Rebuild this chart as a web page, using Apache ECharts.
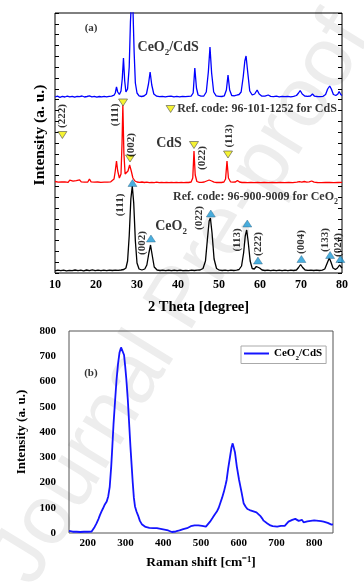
<!DOCTYPE html>
<html><head><meta charset="utf-8">
<script src="https://cdn.jsdelivr.net/npm/echarts@6/dist/echarts.min.js"></script>
<style>html,body{margin:0;padding:0;background:#fff}#c{width:364px;height:585px}</style>
</head><body><div id="c"></div>
<script>
// ---------- (a) XRD data: [2theta, intensity above each curve's own baseline] ----------
const xrdComposite = [[10,0],[10.6,0.8],[11.2,-0.3],[11.8,0.6],[12.4,0],[13,0.9],[13.6,0.2],[14.2,0.7],[14.8,-0.2],[15.4,0.6],[16,0.3],[16.6,1],[17.2,0],[17.8,0.5],[18.4,1.1],[19,0.2],[19.6,0.6],[20.2,-0.2],[20.8,0.5],[21.4,0.1],[22,0.7],[22.6,0.2],[23.2,0.6],[23.8,0.9],[24.4,1.8],[24.7,4],[25.0,10],[25.3,5],[25.7,2.5],[26.1,6],[26.4,18],[26.7,39],[27.0,16],[27.3,5],[27.7,8],[28.1,30],[28.4,75],[28.7,100],[29.0,90],[29.3,45],[29.6,14],[30.0,4],[30.5,1.2],[31.1,0.5],[31.7,1],[32.3,3],[32.8,13],[33.2,25],[33.6,12],[34.1,3],[34.8,0.8],[35.5,0.3],[36.2,0.7],[36.9,0.1],[37.6,0.6],[38.3,0.9],[39,0.2],[39.7,0.6],[40.4,0.1],[41.1,0.7],[41.8,0.3],[42.5,0.6],[43.2,0.8],[43.7,4],[44.1,29],[44.5,9],[44.9,2],[45.6,0.8],[46.3,1],[46.9,5],[47.4,25],[47.8,50],[48.2,24],[48.7,5],[49.3,1.2],[50,0.6],[50.7,0.5],[51.3,1.2],[51.8,7],[52.2,22],[52.6,7],[53.1,1.5],[53.7,1.2],[54.3,1.8],[54.9,2.5],[55.4,5],[55.9,20],[56.3,36],[56.6,41],[57.0,25],[57.5,6],[58.1,2],[58.7,3],[59.3,7],[59.8,3],[60.4,1],[61.2,0.8],[62,2],[62.6,0.6],[63.3,0.3],[64,0.8],[64.7,0.2],[65.4,0.6],[66.1,0.3],[66.8,0.7],[67.5,0.2],[68.2,0.6],[68.9,1.5],[69.4,4],[69.8,6.5],[70.3,3],[70.9,1],[71.6,0.6],[72.3,1],[72.8,3],[73.3,0.8],[74,0.5],[74.7,0.3],[75.4,0.7],[76,2.5],[76.5,8],[77.0,11],[77.4,8],[77.9,2.5],[78.5,1.5],[79.0,3],[79.3,5.5],[79.7,2.5],[80,1.5]];
const xrdCdS = [[10,1.5],[10.4,2.5],[10.8,0.8],[11.2,2],[11.6,1],[12,3],[12.4,1.2],[12.8,2.2],[13.2,0.6],[13.6,2.8],[14,1],[14.4,1.8],[14.8,0.7],[15.2,2.4],[15.6,1],[16,3.2],[16.4,1.1],[16.8,2],[17.2,0.8],[17.6,2.2],[18,1],[18.4,4],[18.8,1.2],[19.2,2],[19.6,0.9],[20,2.4],[20.4,1],[20.8,1.8],[21.2,0.6],[21.6,2],[22,0.9],[22.4,1.8],[22.8,0.8],[23.2,2.2],[23.6,1.2],[24,2],[24.4,4],[24.7,12],[25.0,22],[25.3,12],[25.7,5],[26.1,9],[26.35,40],[26.55,78],[26.8,30],[27.1,9],[27.4,7],[27.8,12],[28.2,18],[28.6,12],[29.0,5],[29.5,2],[30,1],[30.6,0.6],[31.2,1],[31.8,0.5],[32.4,0.8],[33,0.4],[33.6,0.7],[34.2,0.4],[34.8,0.8],[35.4,0.4],[36,0.6],[36.6,0.3],[37.2,0.7],[37.8,0.4],[38.4,0.6],[39,0.3],[39.6,0.7],[40.2,0.4],[40.8,0.5],[41.4,0.3],[42,0.6],[42.6,0.5],[43.2,1],[43.6,5],[43.9,32],[44.2,8],[44.6,1.5],[45.2,0.7],[45.8,0.6],[46.4,1],[47,2],[47.6,3],[48.2,2],[48.8,0.8],[49.4,0.5],[50,0.6],[50.6,0.5],[51.2,1],[51.6,4],[51.95,22],[52.3,5],[52.8,1.2],[53.4,0.8],[54,1],[54.5,2.5],[55,1],[55.6,0.5],[56.3,0.6],[57,0.4],[57.8,0.6],[58.6,0.3],[59.4,0.5],[60.2,0.4],[61,0.6],[62,0.3],[63,0.5],[64,0.3],[65,0.5],[66,0.4],[67,0.6],[68,0.3],[69,0.8],[69.6,1.4],[70.2,0.8],[70.8,1.5],[71.4,0.9],[72,1.2],[72.6,2],[73.2,0.8],[74,0.5],[75,0.4],[76,0.6],[77,0.5],[78,0.4],[79,0.5],[80,0.6]];
const xrdCeO2 = [[10,0.2],[10.7,0.8],[11.4,0.3],[12.1,0.9],[12.8,0.2],[13.5,0.7],[14.2,0.3],[14.9,1],[15.6,0.4],[16.3,0.8],[17,0.2],[17.7,1],[18.4,0.3],[19.1,1.2],[19.8,0.4],[20.5,0.8],[21.2,0.3],[21.9,0.9],[22.6,0.3],[23.3,0.8],[24,0.5],[24.7,0.9],[25.4,0.6],[26.1,1],[26.8,1.5],[27.3,3],[27.7,10],[28.1,35],[28.5,72],[28.85,85],[29.2,68],[29.6,30],[30.0,8],[30.5,2],[31.2,1],[31.9,2],[32.4,6],[32.9,18],[33.3,26],[33.7,16],[34.2,4],[34.9,1],[35.6,0.5],[36.3,0.9],[37,0.4],[37.7,0.8],[38.4,0.3],[39.1,0.9],[39.8,0.4],[40.5,0.8],[41.2,0.3],[41.9,0.7],[42.6,0.4],[43.3,0.8],[44,0.5],[44.7,0.8],[45.4,1],[46.1,2.5],[46.7,10],[47.2,33],[47.6,50],[47.9,53],[48.3,38],[48.8,12],[49.4,2.5],[50.1,0.8],[50.8,0.5],[51.5,0.9],[52.2,0.4],[52.9,0.8],[53.6,0.5],[54.3,0.9],[54.9,1.5],[55.5,5],[56.0,18],[56.4,35],[56.75,41],[57.1,30],[57.6,10],[58.1,2.5],[58.6,2],[59.1,4.5],[59.5,6],[59.9,3],[60.5,1],[61.2,0.5],[61.9,0.9],[62.6,0.4],[63.3,0.8],[64,0.4],[64.7,0.9],[65.4,0.3],[66.1,0.8],[66.8,0.4],[67.5,0.9],[68.2,0.5],[68.9,1],[69.4,3.5],[69.9,6.5],[70.4,3.5],[71,1],[71.7,0.6],[72.4,0.9],[73.1,0.5],[73.8,0.8],[74.5,0.5],[75.2,0.9],[75.8,2],[76.4,8],[76.9,13],[77.3,9],[77.8,3],[78.4,1.5],[78.9,3],[79.4,6],[79.7,5],[80,3]];

// reference-pattern markers and Miller indices (axis units of panel a)
const ceo2Marks = [[28.9,90],[33.4,34.5],[48.0,59.5],[56.9,49.5],[59.5,12.5],[70.1,14],[77.1,18],[79.6,14]];
const cdsMarks = [[11.8,138],[26.6,170.5],[28.3,114.5],[43.9,128],[52.2,118.5]];
const cdsRefMark = [[38.2,164]];
const cdsIndices = [['(222)',11.8,157],['(111)',24.7,158],['(002)',28.6,128],['(022)',45.8,115],['(113)',52.5,137]];
const ceo2Indices = [['(111)',26.0,68],['(002)',31.2,30],['(022)',45.2,55],['(113)',54.4,33],['(222)',59.6,29],['(004)',70.1,31],['(133)',75.9,33],['(024)',79.0,28]];
const xTicksA = [10,20,30,40,50,60,70,80];

// ---------- (b) Raman data: [shift cm-1, intensity] ----------
const raman = [[150,8],[155,5],[160,5],[165,4],[170,5],[175,3],[180,4],[185,4],[190,5],[195,4],[200,5],[205,5],[210,6],[213,12],[218,24],[223,38],[228,55],[232,71],[236,85],[240,97],[245,113],[250,125],[254,145],[258,183],[262,265],[265,345],[268,430],[272,520],[276,606],[280,670],[284,715],[288,735],[290,738],[293,730],[296,705],[299,660],[302,610],[306,527],[310,420],[313,340],[316,270],[319,200],[322,140],[325,105],[329,85],[333,70],[338,48],[343,35],[348,28],[353,24],[358,22],[363,20],[368,22],[373,19],[378,21],[383,19],[388,20],[393,16],[398,17],[403,13],[408,14],[413,10],[418,8],[423,4],[428,3],[433,6],[438,5],[443,10],[448,13],[453,15],[458,17],[463,19],[468,22],[473,27],[478,29],[483,30],[488,29],[493,30],[498,29],[503,28],[508,27],[513,25],[518,30],[524,45],[530,58],[536,72],[542,85],[547,100],[551,118],[556,140],[561,165],[565,190],[568,210],[572,255],[577,302],[581,340],[584,355],[587,350],[590,320],[595,263],[601,210],[608,158],[613,118],[618,105],[623,95],[629,91],[635,88],[641,85],[647,82],[652,78],[657,68],[662,58],[666,49],[671,42],[676,38],[680,33],[684,30],[690,27],[696,26],[702,25],[706,27],[712,28],[716,25],[722,28],[727,32],[732,45],[737,48],[742,52],[746,58],[750,56],[755,52],[759,48],[763,45],[768,52],[772,42],[777,38],[782,46],[787,42],[791,48],[795,52],[800,50],[806,49],[812,48],[818,47],[825,45],[830,44],[836,40],[841,35],[846,33],[850,34]];
const ramanTicksX = [200,300,400,500,600,700,800];

// ---------- rendering ----------
const SERIF = "'Liberation Serif','Times New Roman',serif";
const OFF = {composite:176, cds:90, ceo2:2};
const shift = (arr, o) => arr.map(p => [p[0], p[1] + o]);
const rich = {
  n:{fontFamily:SERIF,fontWeight:'bold',fontSize:14,color:'#000',lineHeight:20,verticalAlign:'middle'},
  s:{fontFamily:SERIF,fontWeight:'bold',fontSize:9,color:'#000',lineHeight:9,verticalAlign:'bottom'},
  r:{fontFamily:SERIF,fontWeight:'bold',fontSize:12,color:'#000',lineHeight:18,verticalAlign:'middle'},
  rs:{fontFamily:SERIF,fontWeight:'bold',fontSize:8,color:'#000',lineHeight:8,verticalAlign:'bottom'},
  m:{fontFamily:SERIF,fontWeight:'bold',fontSize:11,color:'#000'},
  ln:{fontFamily:SERIF,fontWeight:'bold',fontSize:11,color:'#000',lineHeight:16,verticalAlign:'middle'},
  ls:{fontFamily:SERIF,fontWeight:'bold',fontSize:7,color:'#000',lineHeight:7,verticalAlign:'bottom'}
};
const textItem = (label, x, y) => ({name:label, value:[x,y]});
const annoText = [
  textItem('{n|CeO}{s|2}{n|/CdS}', 37.6, 226),
  textItem('{n|CdS}', 37.8, 130),
  textItem('{n|CeO}{s|2}', 38.3, 47),
  textItem('{m|(a)}', 18.8, 245)
];
const refText = [
  textItem('{r|Ref. code: 96-101-1252 for CdS}', 39.8, 164),
  textItem('{r|Ref. code: 96-900-9009 for CeO}{rs|2}', 38.8, 76)
];

const chart = echarts.init(document.getElementById('c'), null, {renderer:'canvas'});
const axisTxt = {fontFamily:SERIF,fontWeight:'bold',color:'#000'};
chart.setOption({
  backgroundColor:'#fff',
  animation:false,
  graphic:[
    {type:'text', x:182, y:300, rotation:1.02, z:-10, silent:true,
     style:{text:'Journal Pre-proof', fontFamily:'Liberation Sans, Arial, sans-serif', fontSize:84, fill:'#ededed', align:'center', verticalAlign:'middle'}},
    {type:'text', x:40, y:135, rotation:Math.PI/2,
     style:{text:'Intensity (a. u.)', fontFamily:SERIF, fontWeight:'bold', fontSize:15.5, fill:'#000', align:'center', verticalAlign:'middle'}}
  ],
  grid:[
    {left:55, top:13, width:287, height:260, show:true, borderColor:'#000', borderWidth:1, backgroundColor:'transparent'},
    {left:69, top:331, width:264, height:202, show:true, borderColor:'#555', borderWidth:1, backgroundColor:'transparent'}
  ],
  xAxis:[
    {gridIndex:0, type:'value', min:10, max:80, interval:10, axisLine:{show:false}, splitLine:{show:false}, axisTick:{show:false},
     axisLabel:Object.assign({fontSize:12, margin:6, customValues:xTicksA}, axisTxt),
     name:'2 Theta [degree]', nameLocation:'middle', nameGap:27, nameTextStyle:Object.assign({fontSize:14.5}, axisTxt)},
    {gridIndex:1, type:'value', min:150, max:850, axisLine:{show:false}, splitLine:{show:false},
     axisTick:{show:false},
     axisLabel:Object.assign({fontSize:11, margin:5, customValues:ramanTicksX}, axisTxt),
     name:'Raman shift [cm\u207B\u00B9]', nameLocation:'middle', nameGap:23, nameTextStyle:Object.assign({fontSize:13.5}, axisTxt)}
  ],
  yAxis:[
    {gridIndex:0, type:'value', min:0, max:260, interval:260/24, axisLine:{show:false}, splitLine:{show:false},
     axisTick:{show:true, inside:true, length:4, lineStyle:{color:'#000'}}, axisLabel:{show:false}},
    {gridIndex:0, type:'value', position:'right', min:0, max:260, interval:260/24, axisLine:{show:false}, splitLine:{show:false},
     axisTick:{show:true, inside:true, length:4, lineStyle:{color:'#000'}}, axisLabel:{show:false}},
    {gridIndex:1, type:'value', min:0, max:800, interval:100, axisLine:{show:false}, splitLine:{show:false}, axisTick:{show:false},
     axisLabel:Object.assign({fontSize:11, margin:13}, axisTxt),
     name:'Intensity (a. u.)', nameLocation:'middle', nameGap:32, nameTextStyle:Object.assign({fontSize:13}, axisTxt)}
  ],
  legend:{
    data:[{name:'CeO2/CdS', icon:'rect'}], left:241, top:346, padding:[2,4,2,3], itemWidth:25, itemHeight:2, itemGap:4,
    borderColor:'#aaa', borderWidth:1, backgroundColor:'#fff',
    itemStyle:{color:'#1414ff'},
    formatter:() => '{ln|CeO}{ls|2}{ln|/CdS}',
    textStyle:{rich:rich, padding:[0,0,0,0]}
  },
  series:[
    {type:'line', name:'xrd-composite', xAxisIndex:0, yAxisIndex:0, data:shift(xrdComposite, OFF.composite), symbol:'none', lineStyle:{color:'#0000ff', width:1.3}, clip:true, z:3},
    {type:'line', name:'xrd-cds', xAxisIndex:0, yAxisIndex:0, data:shift(xrdCdS, OFF.cds), symbol:'none', lineStyle:{color:'#ff0000', width:1.3}, clip:true, z:3},
    {type:'line', name:'xrd-ceo2', xAxisIndex:0, yAxisIndex:0, data:shift(xrdCeO2, OFF.ceo2), symbol:'none', lineStyle:{color:'#000', width:1.3}, clip:true, z:3},
    {type:'scatter', xAxisIndex:0, yAxisIndex:0, data:ceo2Marks, symbol:'triangle', symbolSize:[9,7],
     itemStyle:{color:'#1b9ad6', borderColor:'#2a5f80', borderWidth:0.5}, z:5},
    {type:'scatter', xAxisIndex:0, yAxisIndex:0, data:cdsMarks.concat(cdsRefMark), symbol:'triangle', symbolRotate:180, symbolSize:[9,7],
     itemStyle:{color:'#f2f000', borderColor:'#555', borderWidth:0.8}, z:5},
    {type:'scatter', xAxisIndex:0, yAxisIndex:0, symbolSize:0, z:6,
     data:cdsIndices.concat(ceo2Indices).map(d => ({name:d[0], value:[d[1], d[2]]})),
     label:{show:true, position:'inside', rotate:90, formatter:'{b}', fontFamily:SERIF, fontWeight:'bold', fontSize:11, color:'#000'}},
    {type:'scatter', xAxisIndex:0, yAxisIndex:0, symbolSize:0, z:6, data:annoText,
     label:{show:true, position:'inside', formatter:'{b}', rich:rich}},
    {type:'scatter', xAxisIndex:0, yAxisIndex:0, symbolSize:0, z:6, data:refText,
     label:{show:true, position:'right', distance:0, formatter:'{b}', rich:rich}},
    {type:'line', name:'CeO2/CdS', xAxisIndex:1, yAxisIndex:2, data:raman, symbol:'none', showSymbol:false, lineStyle:{color:'#1414ff', width:1.8}, itemStyle:{color:'#1414ff'}, clip:true, z:3},
    {type:'scatter', xAxisIndex:1, yAxisIndex:2, symbolSize:0, z:6, data:[textItem('{m|(b)}', 208, 634)],
     label:{show:true, position:'inside', formatter:'{b}', rich:rich}}
  ]
});
</script></body></html>
